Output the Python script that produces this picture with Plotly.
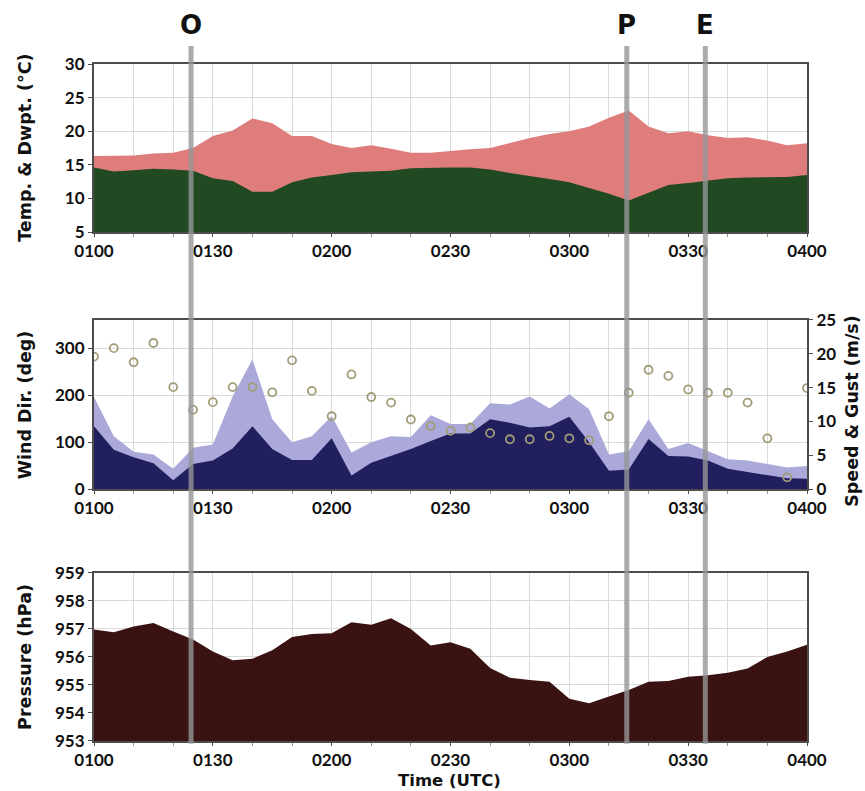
import plotly.graph_objects as go

# ---------------- data ----------------
minutes = list(range(0, 181, 5))
times = [f"2000-01-01 {1 + m // 60:02d}:{m % 60:02d}" for m in minutes]

temperature = [16.3, 16.3, 16.4, 16.7, 16.8, 17.5, 19.3, 20.1, 21.9, 21.2, 19.3, 19.3, 18.1,
               17.5, 17.9, 17.4, 16.8, 16.8, 17.1, 17.3, 17.5, 18.3, 19.0, 19.6, 20.0, 20.7,
               22.0, 23.1, 20.7, 19.7, 20.0, 19.4, 19.0, 19.1, 18.6, 17.9, 18.2]
dewpoint = [14.6, 14.0, 14.2, 14.4, 14.3, 14.1, 13.0, 12.6, 11.0, 11.0, 12.4, 13.1, 13.5,
            13.9, 14.0, 14.1, 14.5, 14.6, 14.6, 14.6, 14.3, 13.8, 13.4, 12.9, 12.4, 11.6,
            10.7, 9.7, 10.9, 12.0, 12.3, 12.6, 13.0, 13.1, 13.2, 13.2, 13.5]
wind_dir = [282, 300, 270, 311, 217, 169, 185, 217, 217, 206, 274, 209, 155,
            244, 196, 184, 148, 134, 124, 131, 119, 106, 106, 113, 108, 104,
            155, 205, 254, 241, 212, 205, 205, 184, 108, 25, 215]
gust = [13.6, 7.8, 5.5, 5.1, 3.0, 6.1, 6.6, 13.7, 19.2, 10.3, 6.9, 7.8, 10.8,
        5.4, 6.9, 7.8, 7.7, 10.9, 9.6, 9.6, 12.7, 12.5, 13.7, 11.9, 14.0, 11.8,
        5.1, 5.6, 10.3, 5.9, 6.8, 5.6, 4.4, 4.2, 3.7, 3.2, 3.4]
speed = [9.3, 5.8, 4.7, 3.8, 1.3, 3.7, 4.2, 6.0, 9.3, 5.9, 4.3, 4.3, 7.5,
         2.0, 3.9, 4.9, 5.9, 7.1, 8.2, 8.2, 10.3, 9.8, 9.1, 9.3, 10.7, 6.9,
         2.7, 2.9, 7.4, 4.9, 4.8, 4.2, 3.0, 2.5, 2.0, 1.6, 1.5]
pressure = [956.98, 956.88, 957.09, 957.21, 956.91, 956.62, 956.20, 955.88, 955.94, 956.24,
            956.71, 956.82, 956.85, 957.24, 957.15, 957.38, 957.00, 956.41, 956.53, 956.29,
            955.61, 955.26, 955.18, 955.12, 954.51, 954.35, 954.59, 954.82, 955.12, 955.14,
            955.29, 955.35, 955.44, 955.59, 956.00, 956.20, 956.44]

event_labels = ["O", "P", "E"]
event_times = ["2000-01-01 01:24:30", "2000-01-01 03:14:30", "2000-01-01 03:34:20"]

x_range = ["2000-01-01 01:00", "2000-01-01 04:00"]

# ---------------- styles ----------------
FONT = "Lato"
FRAME = "#4d4d4d"
GRID = "#dadada"
tickfont = dict(family=FONT, size=17, color="#111", weight="bold")
titlefont = dict(family="DejaVu Sans", size=17.5, color="#111", weight="bold")

fig = go.Figure()

# Top panel: temperature & dewpoint
fig.add_trace(go.Scatter(x=times, y=temperature, mode="lines", fill="tozeroy",
                         line=dict(color="#df7d7d", width=0), fillcolor="#df7d7d",
                         xaxis="x", yaxis="y", name="Temperature", showlegend=False))
fig.add_trace(go.Scatter(x=times, y=dewpoint, mode="lines", fill="tozeroy",
                         line=dict(color="#214a23", width=0), fillcolor="#214a23",
                         xaxis="x", yaxis="y", name="Dewpoint", showlegend=False))

# Middle panel: gust & speed (right axis), direction (left axis)
fig.add_trace(go.Scatter(x=times, y=gust, mode="lines", fill="tozeroy",
                         line=dict(color="#aba9d9", width=0), fillcolor="#aba9d9",
                         xaxis="x2", yaxis="y2", name="Gust", showlegend=False))
fig.add_trace(go.Scatter(x=times, y=speed, mode="lines", fill="tozeroy",
                         line=dict(color="#221f5f", width=0), fillcolor="#221f5f",
                         xaxis="x2", yaxis="y2", name="Speed", showlegend=False))
fig.add_trace(go.Scatter(x=times, y=wind_dir, mode="markers",
                         marker=dict(symbol="circle-open", size=8, color="#a39c78",
                                     line=dict(width=1.8, color="#a39c78")),
                         xaxis="x2", yaxis="y3", name="Direction", showlegend=False))

# Bottom panel: pressure
fig.add_trace(go.Scatter(x=times, y=pressure, mode="lines", fill="tozeroy",
                         line=dict(color="#3a1212", width=0), fillcolor="#3a1212",
                         xaxis="x3", yaxis="y4", name="Pressure", showlegend=False))


def xax(anchor):
    return dict(type="date", range=x_range, anchor=anchor, domain=[0, 1],
                tickformat="%H%M", dtick=1800000, tick0="2000-01-01 01:00",
                showgrid=True, gridcolor=GRID, gridwidth=1,
                minor=dict(dtick=600000, showgrid=True, gridcolor=GRID, ticks="outside",
                           ticklen=3, tickcolor="#999"),
                showline=True, linecolor=FRAME, linewidth=2, mirror=True,
                ticks="outside", ticklen=3, tickcolor=FRAME, tickfont=tickfont,
                zeroline=False)


def yax(anchor, rng, dtick, domain, **kw):
    d = dict(range=rng, dtick=dtick, anchor=anchor, domain=domain,
             showgrid=True, gridcolor=GRID, gridwidth=1,
             showline=True, linecolor=FRAME, linewidth=2, mirror=True,
             ticks="outside", ticklen=4, tickcolor=FRAME, tickfont=tickfont,
             zeroline=False)
    d.update(kw)
    return d


top_dom = [0.7518, 1.0]
mid_dom = [0.3722, 0.6219]
bot_dom = [0.0, 0.2482]

fig.update_layout(
    width=865, height=791,
    margin=dict(l=94, r=58, t=64, b=50),
    paper_bgcolor="white", plot_bgcolor="white",
    showlegend=False,
    xaxis=xax("y"),
    xaxis2=xax("y2"),
    xaxis3=xax("y4"),
    yaxis=yax("x", [5, 30], 5, top_dom),
    yaxis2=yax("x2", [0, 25], 5, mid_dom, side="right", showgrid=False, mirror=False),
    yaxis3=yax("x2", [0, 360], 100, mid_dom, side="left", overlaying="y2", mirror=True),
    yaxis4=yax("x3", [953, 959], 1, bot_dom),
)

# event lines and labels
for lab, t in zip(event_labels, event_times):
    fig.add_shape(type="line", xref="x", yref="paper", x0=t, x1=t, y0=-0.004, y1=1.0266,
                  line=dict(color="rgba(150,150,150,0.8)", width=5), layer="above")
    fig.add_annotation(x=t, y=1.0576, xref="x", yref="paper", text=lab, showarrow=False,
                       font=dict(family="DejaVu Sans", size=26, color="#111", weight="bold"),
                       xanchor="center", yanchor="middle")

# axis titles
fig.add_annotation(x=-0.097, y=0.876, xref="paper", yref="paper", text="Temp. & Dwpt. (°C)",
                   textangle=-90, showarrow=False, font=titlefont, xanchor="center", yanchor="middle")
fig.add_annotation(x=-0.097, y=0.497, xref="paper", yref="paper", text="Wind Dir. (deg)",
                   textangle=-90, showarrow=False, font=titlefont, xanchor="center", yanchor="middle")
fig.add_annotation(x=1.062, y=0.488, xref="paper", yref="paper", text="Speed & Gust (m/s)",
                   textangle=-90, showarrow=False, font=titlefont, xanchor="center", yanchor="middle")
fig.add_annotation(x=-0.097, y=0.124, xref="paper", yref="paper", text="Pressure (hPa)",
                   textangle=-90, showarrow=False, font=titlefont, xanchor="center", yanchor="middle")
fig.add_annotation(x=0.499, y=-0.059, xref="paper", yref="paper", text="Time (UTC)",
                   showarrow=False, font=dict(family="DejaVu Sans", size=16.5, color="#111", weight="bold"),
                   xanchor="center", yanchor="middle")

fig.write_html("out.html")
